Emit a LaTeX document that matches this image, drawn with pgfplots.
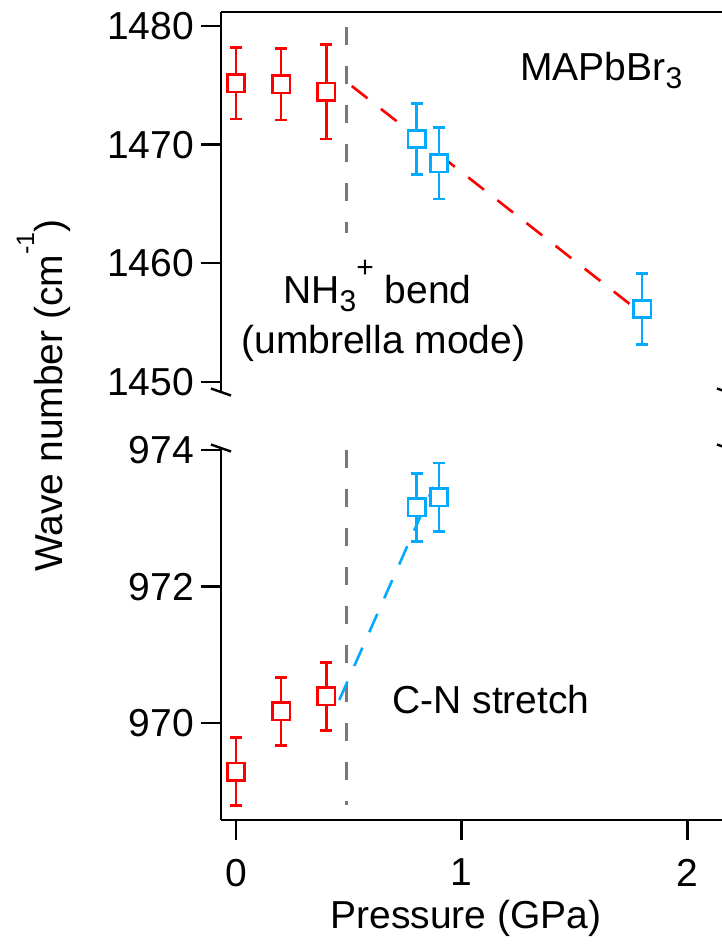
\documentclass[border=0pt]{standalone}
\usepackage{pgfplots}
\usepackage{pgfplotstable}
\pgfplotsset{compat=1.18}
\usepackage{fontspec}
\setmainfont{Liberation Sans}

\definecolor{lowp}{RGB}{255,0,0}
\definecolor{highp}{RGB}{0,170,255}
\definecolor{guide}{RGB}{120,120,120}

\newcommand{\txt}{\fontsize{19.5}{23}\selectfont}
\newcommand{\subs}[1]{\raisebox{-4.2pt}{\fontsize{15}{16}\selectfont #1}}
\newcommand{\supr}[1]{\raisebox{12.9pt}{\fontsize{15}{16}\selectfont #1}}
\newcommand{\supl}[1]{\raisebox{14pt}{\fontsize{12.6}{14}\selectfont #1}}

% NH3+ bending mode (umbrella), wave number in cm^-1
\pgfplotstableread{
x   y        e
0.0 1475.17  3.0
0.2 1475.08  3.0
0.4 1474.46  4.0
}\bendlow
\pgfplotstableread{
x   y        e
0.8 1470.47  3.0
0.9 1468.42  3.0
1.8 1456.14  3.0
}\bendhigh

% C-N stretching mode, wave number in cm^-1
\pgfplotstableread{
x   y       e
0.0 969.29  0.5
0.2 970.17  0.5
0.4 970.39  0.5
}\cnlow
\pgfplotstableread{
x   y       e
0.8 973.16  0.5
0.9 973.31  0.5
}\cnhigh

\tikzset{brk/.style={line width=1.2pt, black}}

\pgfplotsset{
  panel/.style={
    scale only axis, width=253pt, clip=false,
    xmin=-0.0665, xmax=2.176,
    axis y line*=left,
    axis line style={line width=1.25pt, black},
    tick style={line width=1.25pt, black},
    major tick length=10pt,
    tick align=outside,
    ticklabel style={font=\txt},
    xticklabel style={yshift=-6pt},
    /pgf/number format/1000 sep={},
    /pgf/number format/assume math mode=true,
  },
  errs/.style={draw=none, mark=none, forget plot,
    error bars/.cd, y dir=both, y explicit,
    error bar style={draw=#1, line width=1.3pt, solid},
    error mark options={rotate=90, draw=#1, mark size=3pt, line width=1.3pt}},
  pts/.style={only marks, mark=square*, mark size=4.35pt,
    mark options={draw=#1, fill=white, line width=1.3pt, solid}},
  fit/.style={draw=#1, line width=1.3pt, dash pattern=on 10pt off 8.5pt, mark=none},
  guideline/.style={draw=guide, line width=1.3pt, dash pattern=on 9pt off 10.5pt, mark=none},
}

\begin{document}
\begin{tikzpicture}

% upper panel: NH3+ bend
\begin{axis}[panel, at={(110.5pt,-6pt)}, anchor=north west, height=190pt,
  axis x line*=top, xtick=\empty,
  ymin=1449.14, ymax=1481.18, ytick={1450,1460,1470,1480}]
  \addplot[guideline] coordinates {(0.49,1479.9) (0.49,1462.55)};
  \addplot[errs=lowp]  table[x=x, y=y, y error=e]{\bendlow};
  \addplot[errs=highp] table[x=x, y=y, y error=e]{\bendhigh};
  \addplot[pts=lowp]  table[x=x, y=y]{\bendlow};
  \addplot[pts=highp] table[x=x, y=y]{\bendhigh};
  \addplot[fit=lowp] coordinates {(0.513,1474.94) (1.769,1456.2)};
  \draw[brk] ([xshift=-5pt,yshift=1.75pt]rel axis cs:0,0) -- ([xshift=5pt,yshift=-1.75pt]rel axis cs:0,0);
  \draw[brk] ([xshift=-5pt,yshift=1.75pt]rel axis cs:1,0) -- ([xshift=5pt,yshift=-1.75pt]rel axis cs:1,0);
\end{axis}

% lower panel: C-N stretch
\begin{axis}[panel, at={(110.5pt,-410pt)}, anchor=south west, height=186pt,
  axis x line*=bottom, xtick={0,1,2},
  ymin=968.58, ymax=974.03, ytick={970,972,974}]
  \addplot[guideline] coordinates {(0.49,974.0) (0.49,968.8)};
  \addplot[errs=lowp]  table[x=x, y=y, y error=e]{\cnlow};
  \addplot[errs=highp] table[x=x, y=y, y error=e]{\cnhigh};
  \addplot[pts=lowp]  table[x=x, y=y]{\cnlow};
  \addplot[pts=highp] table[x=x, y=y]{\cnhigh};
  \addplot[fit=highp] coordinates {(0.458,970.34) (0.875,973.46)};
  \draw[brk] ([xshift=-5pt,yshift=1.75pt]rel axis cs:0,1) -- ([xshift=5pt,yshift=-1.75pt]rel axis cs:0,1);
  \draw[brk] ([xshift=-5pt,yshift=1.75pt]rel axis cs:1,1) -- ([xshift=5pt,yshift=-1.75pt]rel axis cs:1,1);
\end{axis}

% annotations and shared axis titles
\begin{scope}[every node/.style={inner sep=0pt, font=\txt}]
  \node[anchor=base west] at (260pt,-40pt) {MAPbBr\subs{3}};
  \node[anchor=base west] at (141.5pt,-151.5pt) {NH\subs{3}\supr{+} bend};
  \node[anchor=base west] at (120.5pt,-176.5pt) {(umbrella mode)};
  \node[anchor=base west] at (196pt,-356.5pt) {C-N stretch};
  \node[anchor=base west] at (165pt,-464pt) {Pressure (GPa)};
  \node[anchor=base west, rotate=90] at (31pt,-286pt) {Wave number (cm\supl{-1})};
\end{scope}

\pgfresetboundingbox
\useasboundingbox (0pt,0pt) rectangle (361pt,-474.5pt);
\end{tikzpicture}
\end{document}
